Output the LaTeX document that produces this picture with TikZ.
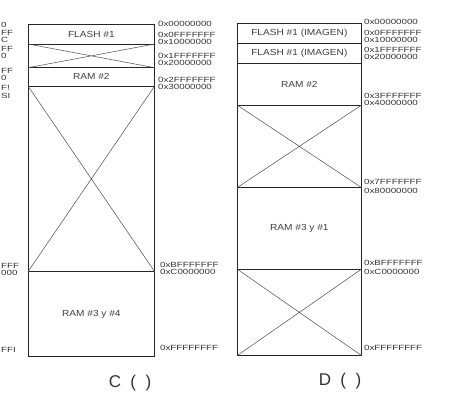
\documentclass[tikz,border=0pt]{standalone}
\usepackage{fontspec}
\setmainfont{Liberation Sans}
\newfontfamily\labfont[FakeStretch=1.3]{Liberation Sans}
\newfontfamily\boxfont[FakeStretch=1.15]{Liberation Sans}
\begin{document}
\begin{tikzpicture}[x=1pt,y=-1pt,
  addr/.style={anchor=west,inner sep=0pt,font=\labfont\fontsize{7.5}{8}\selectfont,text=black!80},
  addrL/.style={anchor=west,inner sep=0pt,font=\labfont\fontsize{7.5}{8}\selectfont,text=black!80},
  region/.style={draw=black!85,line width=0.7pt,inner sep=0pt,anchor=north west,
    font=\boxfont\fontsize{8.8}{9}\selectfont,text=black!75},
  cw/.style={region,minimum width=126pt},
  dw/.style={region,minimum width=124pt},
  xline/.style={draw=black!70,line width=0.5pt},
  capt/.style={inner sep=0pt,font=\fontsize{17}{19}\selectfont,text=black!80}]
\useasboundingbox (0,0) rectangle (459,405);
\fill[white] (0,0) rectangle (459,405);
% fragments of a cut-off column on the left
\node[addrL] (l1) at (1,25) {0};
\node[addrL] (l2) at (1,33) {FF};
\node[addrL] (l3) at (1,40) {C};
\node[addrL] (l4) at (1,49) {FF};
\node[addrL] (l5) at (1,56) {0};
\node[addrL] (l6) at (1,71) {FF};
\node[addrL] (l7) at (1,78) {0};
\node[addrL] (l8) at (1,88) {F!};
\node[addrL] (l9) at (1,96) {SI};
\node[addrL] (l10) at (1,266) {FFF};
\node[addrL] (l11) at (1,273) {000};
\node[addrL] (l12) at (1,350) {FFI};
% ---- diagram C ----
\node[cw,minimum height=20pt] (c1) at (28,24) {FLASH \#1};
\node[cw,minimum height=23pt] (c2) at (28,44) {};
\node[cw,minimum height=19pt] (c3) at (28,67) {RAM \#2};
\node[cw,minimum height=185pt] (c4) at (28,86) {};
\node[cw,minimum height=85pt] (c5) at (28,271) {RAM \#3 y \#4};
\draw[xline] (c2.north west) -- (c2.south east) (c2.north east) -- (c2.south west);
\draw[xline] (c4.north west) -- (c4.south east) (c4.north east) -- (c4.south west);
\node[addr] (ca1) at (158,24) {0x00000000};
\node[addr] (ca2) at (158,35) {0x0FFFFFFF};
\node[addr] (ca3) at (158,42) {0x10000000};
\node[addr] (ca4) at (158,56) {0x1FFFFFFF};
\node[addr] (ca5) at (158,63) {0x20000000};
\node[addr] (ca6) at (158,80) {0x2FFFFFFF};
\node[addr] (ca7) at (158,87) {0x30000000};
\node[addr] (ca8) at (160,265) {0xBFFFFFFF};
\node[addr] (ca9) at (160,272) {0xC0000000};
\node[addr] (ca10) at (160,348) {0xFFFFFFFF};
\node[capt] (capC) at (130,383) {C\ \ (\ \ )};
% ---- diagram D ----
\node[dw,minimum height=20pt] (d1) at (237,23) {FLASH \#1 (IMAGEN)};
\node[dw,minimum height=20pt] (d2) at (237,43) {FLASH \#1 (IMAGEN)};
\node[dw,minimum height=42pt] (d3) at (237,63) {RAM \#2};
\node[dw,minimum height=82pt] (d4) at (237,105) {};
\node[dw,minimum height=82pt] (d5) at (237,187) {RAM \#3 y \#1};
\node[dw,minimum height=86pt] (d6) at (237,269) {};
\draw[xline] (d4.north west) -- (d4.south east) (d4.north east) -- (d4.south west);
\draw[xline] (d6.north west) -- (d6.south east) (d6.north east) -- (d6.south west);
\node[addr] (da1) at (364,22) {0x00000000};
\node[addr] (da2) at (364,33) {0x0FFFFFFF};
\node[addr] (da3) at (364,40) {0x10000000};
\node[addr] (da4) at (364,50) {0x1FFFFFFF};
\node[addr] (da5) at (364,57) {0x20000000};
\node[addr] (da6) at (364,96) {0x3FFFFFFF};
\node[addr] (da7) at (364,103) {0x40000000};
\node[addr] (da8) at (364,182) {0x7FFFFFFF};
\node[addr] (da9) at (364,191) {0x80000000};
\node[addr] (da10) at (364,263) {0xBFFFFFFF};
\node[addr] (da11) at (364,272) {0xC0000000};
\node[addr] (da12) at (364,348) {0xFFFFFFFF};
\node[capt] (capD) at (340,381) {D\ \ (\ \ )};
\end{tikzpicture}
\end{document}
